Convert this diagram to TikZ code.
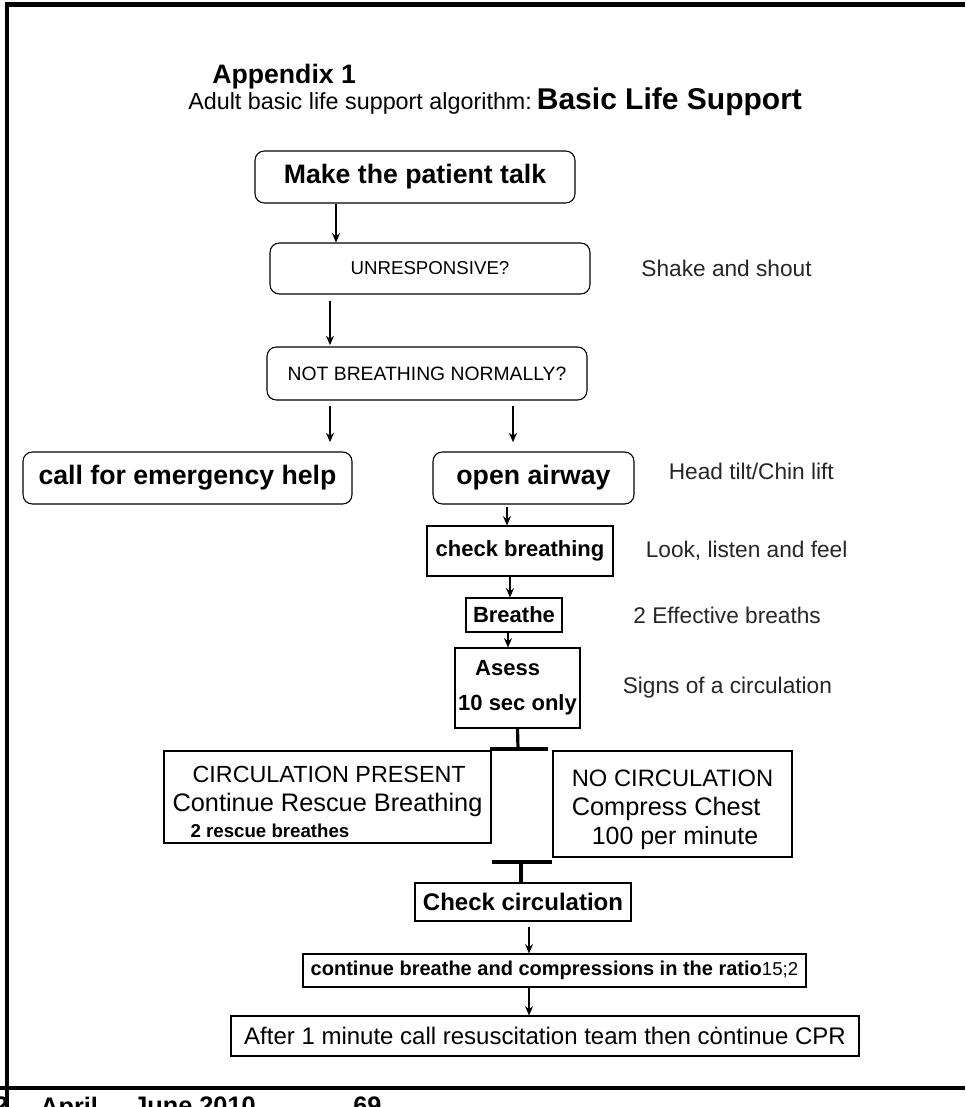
\documentclass[tikz,border=0pt]{standalone}
\usepackage{fontspec}
\setmainfont{Liberation Sans}
\usetikzlibrary{arrows.meta,positioning}
\tikzset{>={Stealth[length=7pt,width=6pt]}}

\begin{document}
\begin{tikzpicture}[
    x=0.75pt, y=-0.75pt,
    every node/.style={inner sep=0pt},
    block/.style={
        draw,
        line width=0.8pt,
        rounded corners=7pt,
        align=center,
      },
    plainbox/.style={
        draw,
        line width=0.8pt,
        align=center,
      },
    note/.style={
        font=\fontsize{17}{20}\selectfont,
        text=black!85,
      },
    link/.style={->, line width=0.9pt},
    stem/.style={line width=2.4pt},
    bar/.style={line width=3.6pt},
  ]
  \fill[white] (0,0) rectangle (965,1107);
  \useasboundingbox (0,0) rectangle (965,1107);

  % page frame
  \draw[line width=3.75pt] (6,4) -- (965,4);
  \draw[line width=3pt] (7,2) -- (7,1107);
  \draw[line width=3pt] (0,1088) -- (965,1088);

  \node [
    anchor=base west,
    font=\fontsize{20}{24}\selectfont\bfseries
  ] (appendix) at (212,83) {Appendix 1};
  \node [
    anchor=base west
  ] (subtitle) at (188,109) {{\fontsize{17.5}{20}\selectfont Adult basic life support algorithm:} {\fontsize{22.5}{26}\selectfont\bfseries Basic Life Support}};

  \node [
    block,
    minimum width=240pt, minimum height=39pt,
    font=\fontsize{20}{24}\selectfont\bfseries
  ] (talk) at (415,177) {Make the patient talk};
  \node [
    block,
    minimum width=240pt, minimum height=38.25pt,
    font=\fontsize{14}{17}\selectfont
  ] (unresp) at (430,268.5) {UNRESPONSIVE?};
  \node [
    block,
    minimum width=240pt, minimum height=39.75pt,
    font=\fontsize{14.5}{17}\selectfont
  ] (notbreath) at (427,373.5) {NOT BREATHING NORMALLY?};
  \node [
    block,
    minimum width=246.75pt, minimum height=39pt,
    font=\fontsize{20}{24}\selectfont\bfseries
  ] (emergency) at (187.5,478) {call for emergency help};
  \node [
    block,
    minimum width=150.75pt, minimum height=39pt,
    font=\fontsize{20}{24}\selectfont\bfseries
  ] (airway) at (533.5,478) {open airway};
  \node [
    plainbox,
    minimum width=139.5pt, minimum height=37.5pt,
    font=\fontsize{16.5}{20}\selectfont\bfseries
  ] (checkbr) at (520,551) {check breathing};
  \node [
    plainbox,
    minimum width=72pt, minimum height=25.5pt,
    font=\fontsize{16.5}{20}\selectfont\bfseries
  ] (breathe) at (514,615) {Breathe};
  \node [
    plainbox,
    align=left,
    minimum width=93.75pt, minimum height=60pt,
    font=\fontsize{16.5}{26}\selectfont\bfseries
  ] (assess) at (517.5,688) {\hspace*{12.75pt}Asess\\10 sec only};
  \node [
    plainbox,
    align=left,
    minimum width=245.25pt, minimum height=69pt,
    font=\fontsize{18}{21.75}\selectfont
  ] (present) at (327.5,797) {{\fontsize{17.5}{21.75}\selectfont\hspace*{15pt}\rule{0pt}{20pt}CIRCULATION PRESENT}\\
    {\fontsize{19}{21.75}\selectfont Continue Rescue Breathing}\\[-2pt]
    {\fontsize{14}{17}\selectfont\bfseries\hspace*{13.5pt}2 rescue breathes}};
  \node [
    plainbox,
    align=left,
    minimum width=179.25pt, minimum height=79.5pt,
    font=\fontsize{18}{21.75}\selectfont
  ] (nocirc) at (672.5,804) {{\fontsize{17.8}{21.75}\selectfont\rule{0pt}{21pt}NO CIRCULATION}\\
    {\fontsize{19}{21.75}\selectfont Compress Chest}\\
    {\fontsize{18.7}{21.75}\selectfont\hspace*{15pt}100 per minute}};
  \node [
    plainbox,
    minimum width=162pt, minimum height=28.5pt,
    font=\fontsize{18}{21}\selectfont\bfseries
  ] (checkcirc) at (523,902) {Check circulation};
  \node [
    plainbox,
    minimum width=377.25pt, minimum height=24.75pt
  ] (ratio) at (554.5,970.5) {{\fontsize{15}{18}\selectfont\bfseries continue breathe and compressions in the ratio}{\fontsize{14}{18}\selectfont 15;2}};
  \node [
    plainbox,
    minimum width=471pt, minimum height=30pt,
    font=\fontsize{18}{21}\selectfont
  ] (after) at (545,1036) {After 1 minute call resuscitation team then c\.ontinue CPR};

  % side notes
  \node [note, right=38pt of unresp] (shake) {Shake and shout};
  \node [note, right=25.5pt of airway, yshift=5pt] (tilt) {Head tilt/Chin lift};
  \node [note, right=24pt of checkbr] (look) {Look, listen and feel};
  \node [note, right=53pt of breathe] (breaths) {2 Effective breaths};
  \node [note, right=31.5pt of assess] (signs) {Signs of a circulation};

  % issue line, cut by the page edge
  \node [anchor=north west, font=\fontsize{19}{22}\selectfont\bfseries] (issue) at (-6,1097) {2};
  \node [anchor=north west, font=\fontsize{19}{22}\selectfont\bfseries] (months) at (40,1097) {April};
  \node [anchor=north west, font=\fontsize{19}{22}\selectfont\bfseries] (year) at (133,1097) {June 2010};
  \node [anchor=north west, font=\fontsize{19}{22}\selectfont\bfseries] (pageno) at (353,1097) {69};

  \coordinate (split) at (518,749);
  \coordinate (join) at (521,862);

  \draw[link] ([xshift=-59.25pt]talk.south) -- ([xshift=-59.25pt]talk.south |- unresp.north);
  \draw[link, shorten <=5pt, shorten >=1pt] ([xshift=-75pt]unresp.south) -- ([xshift=-75pt]unresp.south |- notbreath.north);
  \draw[link, shorten <=4pt, shorten >=7pt] ([xshift=-72.75pt]notbreath.south) -- ([xshift=-72.75pt]notbreath.south |- emergency.north);
  \draw[link, shorten <=4pt, shorten >=7pt] ([xshift=64.5pt]notbreath.south) -- ([xshift=64.5pt]notbreath.south |- airway.north);
  \draw[link, shorten <=2pt] ([xshift=-19.9pt]airway.south) -- ([xshift=-19.9pt]airway.south |- checkbr.north);
  \draw[link] ([xshift=-7.5pt]checkbr.south) -- ([xshift=-7.5pt]checkbr.south |- breathe.north);
  \draw[link] ([xshift=-4.5pt]breathe.south) -- ([xshift=-4.5pt]breathe.south |- assess.north);
  \draw[stem] (assess.south) -- (split);
  \draw[bar] ([xshift=-21pt]split) -- ([xshift=22.5pt]split);
  \draw[bar] ([xshift=-21.75pt]join) -- ([xshift=23.25pt]join);
  \draw[stem] (join) -- (join |- checkcirc.north);
  \draw[link, shorten <=4pt] ([xshift=4.5pt]checkcirc.south) -- ([xshift=4.5pt]checkcirc.south |- ratio.north);
  \draw[link] ([xshift=-19.1pt]ratio.south) -- ([xshift=-19.1pt]ratio.south |- after.north);
\end{tikzpicture}
\end{document}
